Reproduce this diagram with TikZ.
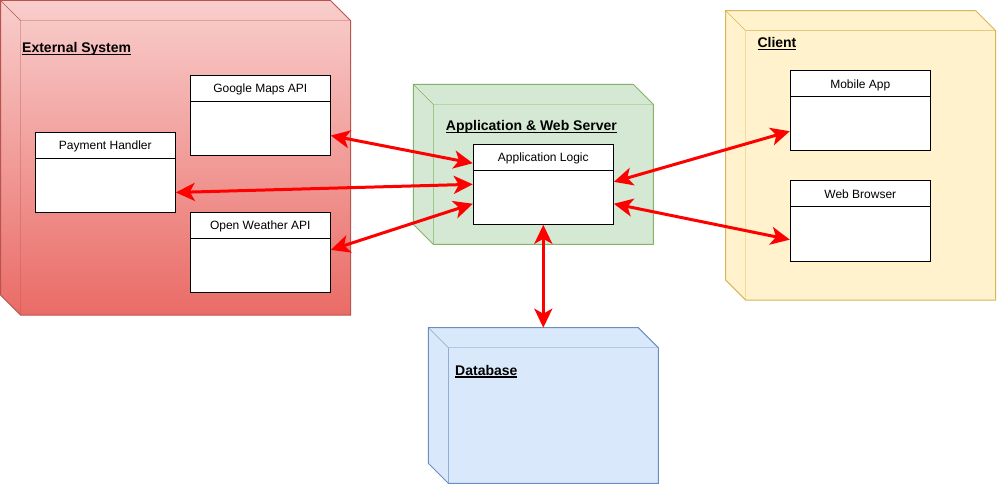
\documentclass[tikz,border=0pt]{standalone}
\usepackage{fontspec}
\setmainfont{Liberation Sans}
\usetikzlibrary{calc,arrows.meta}

\definecolor{extfill}{HTML}{F8CECC}
\definecolor{extshade}{HTML}{EA6B66}
\definecolor{extline}{HTML}{B85450}
\definecolor{srvfill}{HTML}{D5E8D4}
\definecolor{srvline}{HTML}{82B366}
\definecolor{clifill}{HTML}{FFF2CC}
\definecolor{cliline}{HTML}{D6B656}
\definecolor{dbfill}{HTML}{DAE8FC}
\definecolor{dbline}{HTML}{6C8EBF}

\def\ulabel#1{\setbox0\hbox{#1}\rlap{\vrule height -1.3pt depth 2.5pt width \wd0}\box0}
\def\deploybox[#1]#2(#3:#4:#5:#6){%
	\draw[#1, draw=#2line] (#3,#4) -- ({#3+#5-20},#4) -- ({#3+#5},{#4+20}) -- ({#3+#5},{#4+#6}) -- ({#3+20},{#4+#6}) -- (#3,{#4+#6-20}) -- cycle;
	\draw[draw=#2line] (#3,#4) -- ({#3+20},{#4+20}) -- ({#3+#5},{#4+20}) ({#3+20},{#4+20}) -- ({#3+20},{#4+#6});
	\coordinate (#2top) at ({#3+#5/2},#4);
}

\tikzset{
	classbox/.style={draw, fill=white, line width=1pt, inner sep=0, minimum width=140, minimum height=80},
	classhead/.style={draw, line width=1pt, anchor=north, inner sep=0, minimum width=140, minimum height=26, text height=8.6pt, text depth=0pt, font=\fontsize{12}{14}\selectfont},
	title/.style={anchor=base west, inner sep=0, font=\fontsize{14}{16}\selectfont\bfseries},
	link/.style={red, line width=3pt, <->, >={Stealth[length=19pt, width=18pt, inset=5pt]}}
}

\begin{document}
\begin{tikzpicture}[x=1pt, y=-1pt]
			%%%%% START %%%%%
			\useasboundingbox (0,0) rectangle (997,484);
			
			\deploybox[top color=extfill, bottom color=extshade, line width=1pt]{ext}(0.5:0.5:350:314.5)
			\deploybox[fill=srvfill, line width=1pt]{srv}(413.3:84.3:240:160)
			\deploybox[fill=clifill, line width=1pt]{cli}(725.7:10.7:270:289.3)
			\deploybox[fill=dbfill, line width=1pt]{db}(428.3:327.7:230:155.6)
			
			\node[title] (exttitle) at (22, 52.3) {\ulabel{External System}};
			\node[title] (srvtitle) at (445.7, 131) {\ulabel{Application \& Web Server}};
			\node[title] (clititle) at (757.3, 47.7) {\ulabel{Client}};
			\node[title] (dbtitle) at (455, 375) {\ulabel{Database}};
			
			\node[classbox] (gmaps) at (260.3, 115.3) {};
			\node[classhead] at (gmaps.north) {Google Maps API};
			\node[classbox] (payment) at (105.3, 172.2) {};
			\node[classhead] at (payment.north) {Payment Handler};
			\node[classbox] (weather) at (260.3, 252.3) {};
			\node[classhead] at (weather.north) {Open Weather API};
			
			\node[classbox] (logic) at (543.3, 184.3) {};
			\node[classhead] at (logic.north) {Application Logic};
			
			\node[classbox] (mobile) at (860.3, 111) {};
			\node[classhead] at (mobile.north) {Mobile App};
			\node[classbox] (browser) at (860.3, 221) {};
			\node[classhead] at (browser.north) {Web Browser};
			
			\draw[link] ($(gmaps.north east)!0.75!(gmaps.south east)$) -- ($(logic.north west)!0.24!(logic.south west)$);
			\draw[link] ($(payment.north east)!0.75!(payment.south east)$) -- (logic.west);
			\draw[link] ($(weather.north east)!0.47!(weather.south east)$) -- ($(logic.north west)!0.74!(logic.south west)$);
			\draw[link] ($(logic.north east)!0.47!(logic.south east)$) -- ($(mobile.north west)!0.75!(mobile.south west)$);
			\draw[link] ($(logic.north east)!0.74!(logic.south east)$) -- ($(browser.north west)!0.73!(browser.south west)$);
			\draw[link] (logic.south) -- (dbtop);
			
			%%%%% END %%%%%
		\end{tikzpicture}
\end{document}
